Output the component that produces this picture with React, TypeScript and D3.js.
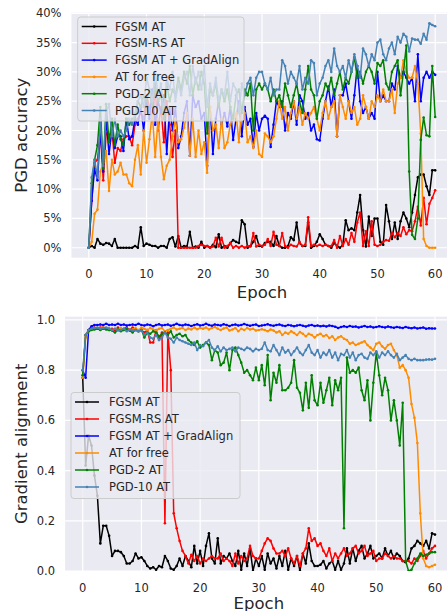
import React from "react";
import * as d3 from "d3";

// values were logged every half epoch
const epochs = d3.range(121).map((i) => i / 2);

const legendNames = ["FGSM AT", "FGSM-RS AT", "FGSM AT + GradAlign", "AT for free", "PGD-2 AT", "PGD-10 AT"];
const lineColors = ["#000000", "#ff0000", "#0000ff", "#ff8c00", "#008000", "#4682b4"];

const epochTicks = [0, 10, 20, 30, 40, 50, 60];
const accTicks = [0, 5, 10, 15, 20, 25, 30, 35, 40];
const alignTicks = [0, 0.2, 0.4, 0.6, 0.8, 1.0];

// ---- PGD accuracy (%) ----
const fgsmAcc = [
  0, 0.3, 0, 1.5, 0.7, 0.5, 0.8, 0.7, 0.3, 1.5, 0, 0, 0, 0, 0, 0, 0.3, 0, 3.5, 0.3, 0.7,
  0.5, 0.3, 0.3, 0, 0.3, 0.3, 0, 1.5, 1.8, 0.2, 2.0, 0, 0.3, 0.2, 2.7, 0, 0.2, 0, 1.0, 0,
  0.3, 0, 0.5, 0.1, 2.3, 0, 0.3, 0, 0.8, 1.3, 1.0, 0.8, 4.7, 4.0, 0, 0.3, 1.0, 2.0, 0.3, 0.2,
  0.8, 1.0, 1.0, 0.3, 2.0, 0.3, 0, 0, 0.3, 1.8, 1.3, 4.3, 0.8, 0.3, 0.3, 4.3, 0, 0.3, 1.0, 2.3,
  1.5, 0.5, 0.3, 0, 0.8, 0.3, 0, 0.5, 4.7, 3.0, 3.3, 3.0, 6.0, 9.0, 3.0, 0.2, 5.3, 2.0, 5.0, 5.0,
  1.0, 0.5, 7.3, 4.5, 1.5, 4.3, 1.5, 4.5, 6.0, 5.0, 3.5, 6.0, 9.0, 12.0, 12.5, 12.5, 10.5, 9.0, 13.2, 13.2,
];
const rsAcc = [
  0, 8, 14.5, 15, 20, 11.5, 19.5, 19, 20, 14.5, 17, 16.5, 18.5, 19, 19, 17.5, 21, 22, 23, 22, 26,
  24, 22, 27, 20, 24, 18, 25, 21, 15.5, 20, 0, 0, 0, 0, 0, 0, 0, 0.3, 0.5, 0.3,
  0.3, 0, 0.2, 1.7, 0.2, 1.7, 0, 0.3, 0.8, 0, 0.3, 0, 0.3, 0, 0.3, 0.2, 2.5, 0.2, 0.5, 0.3,
  0.5, 1.5, 0.3, 2.7, 0.5, 0.3, 2.5, 0.3, 0, 0.5, 0.3, 0.2, 1.0, 0.3, 0.5, 5.2, 0.3, 0.5, 0.3, 0.5,
  0.3, 0.5, 0.3, 0.3, 1.3, 0, 2.0, 0.3, 1.5, 0.5, 2.5, 1.0, 4.3, 6.0, 0.3, 2.8, 0.3, 4.5, 0.5, 0.3,
  0.5, 1.0, 1.3, 1.2, 2.5, 1.8, 2.5, 2.0, 3.5, 2.3, 3.0, 2.8, 4.5, 7.0, 3.8, 8.5, 4.0, 7.5, 8.5, 9.8,
];
const gaAcc = [
  0, 8, 13.5, 11.5, 20, 13, 22, 16, 20, 17, 19, 19, 16.5, 22, 18.5, 19, 22, 21, 24, 20, 25,
  22, 27, 21, 25, 23, 26, 16, 24, 20, 24, 17, 19, 23, 25, 15.7, 26, 24, 25, 22, 23,
  14, 24, 16, 22, 25, 21, 23, 20.7, 24, 18.4, 22, 25, 19, 24, 21, 22, 17.2, 23, 20, 22,
  22.5, 22, 17.2, 21, 25, 24, 25, 20, 23, 22, 25, 21, 26, 25, 22, 23, 20, 21, 18.5, 18.3,
  22, 25, 27.5, 24, 27, 19, 26, 26, 28, 25, 22, 26, 31, 25, 23, 24, 22, 23, 22, 30,
  25, 26, 25, 25, 28, 27, 31, 29, 30, 29, 28, 29, 25, 33, 25, 29, 30, 29, 30, 29.5,
];
const freeAcc = [
  0, 1, 5.8, 6.5, 13, 14.5, 16.5, 9.7, 15, 12.5, 13, 14.5, 12.5, 12.5, 11, 10.5, 15, 17.5, 12.5, 20, 14.5,
  18.5, 23, 15.5, 22, 15.5, 11.7, 14, 15, 19, 22, 18, 18.5, 20.5, 23, 15.7, 22, 15.5, 20, 16, 18,
  12.8, 24, 20, 21, 17, 22, 17, 18, 21, 22, 23, 18, 24, 23, 18, 19, 17, 20, 16, 15.5,
  19.5, 19, 18, 19, 22, 25, 22, 24, 20, 23, 25, 22, 24, 21, 23, 22, 23, 24, 22, 20,
  23, 25, 22, 24, 25, 19, 26, 24, 22, 25, 23, 24, 21, 22, 26, 24, 22, 25, 24, 26,
  25, 27, 25, 25, 27, 23, 28, 29, 32, 30, 29, 29, 31, 28, 19.5, 1.5, 0.3, 0, 0, 0,
];
const pgd2Acc = [
  0, 11, 15, 17.5, 24, 13.5, 24.5, 18, 22, 17.5, 21, 18.5, 17.5, 22, 21, 22, 22, 25, 24, 26, 25,
  27, 24, 28, 25, 26, 22, 28, 25, 27, 26, 29, 27, 30, 28, 31, 26, 29, 27, 30, 28,
  19.5, 27, 26, 28, 24, 27, 25, 27, 24, 22, 26, 27, 23, 27, 26, 28, 20, 27, 28, 27,
  28, 27, 25, 27, 25, 26, 24, 28, 26, 24, 26, 28, 25, 23, 27, 31, 27, 26, 22, 25,
  26, 28, 27, 29, 26, 28, 30, 27, 29, 28, 30, 32.5, 29, 30, 28, 30, 31, 30, 28, 31.5,
  31, 32, 28, 27, 30, 31, 32, 26, 30, 34.5, 13, 2.2, 1.5, 5, 18.4, 22.2, 19.2, 19, 31, 22.3,
];
const pgd10Acc = [
  0, 12, 15, 12, 22, 14, 23, 24.5, 19, 22, 19, 20, 19, 20, 22, 21, 23, 25, 26, 24, 29,
  27, 25, 30, 26, 28, 23, 29, 27, 30, 25, 28, 26, 29, 30, 26, 31, 28, 30, 27, 31,
  24, 28, 26, 29, 25, 27, 26, 30, 25, 28, 27, 23, 28, 26, 28, 29, 26, 29, 30, 30,
  28, 27, 29, 26, 27, 27, 32, 31, 28, 30, 29, 28, 31, 27, 29, 28, 32, 31.5, 26, 28,
  29, 31, 32, 30, 34, 31, 30, 31, 29, 32, 30, 33, 31, 29, 34, 33, 31, 33, 32, 35,
  35.5, 33, 32, 34, 35, 33, 36, 35, 36.5, 36, 33.5, 35.7, 35.5, 35.5, 34.8, 36.5, 35.5, 38.3, 38, 37.8,
];

// ---- gradient alignment ----
const fgsmAlign = [
  0.77, 0.42, 0.54, 0.5, 0.38, 0.3, 0.11, 0.18, 0.18, 0.14, 0.06, 0.08, 0.08, 0.075, 0.06, 0.03, 0.03, 0.04, 0.07, 0.05, 0.055,
  0.04, 0.02, 0.01, 0.015, 0.005, 0.02, 0.015, 0.06, 0.04, 0.01, 0.005, 0.02, 0.05, 0.02, 0.06, 0.04, 0.015, 0.1, 0.03, 0.08,
  0.02, 0.1, 0.15, 0.05, 0.03, 0.13, 0.03, 0.06, 0.05, 0.07, 0.04, 0.02, 0.08, 0.005, 0.07, 0.02, 0.09, 0.0, 0.05, 0.02,
  0.06, 0.005, 0.07, 0.03, 0.05, 0.01, 0.06, 0.02, 0.08, 0.005, 0.05, 0.02, 0.06, 0.0, 0.07, 0.03, 0.11, 0.04, 0.02, 0.02,
  0.025, 0.04, 0.01, 0.03, 0.04, 0.005, 0.04, 0.005, 0.03, 0.09, 0.03, 0.09, 0.04, 0.08, 0.1, 0.05, 0.07, 0.1, 0.05, 0.06,
  0.07, 0.05, 0.09, 0.06, 0.08, 0.05, 0.07, 0.06, 0.04, 0.035, 0.05, 0.09, 0.1, 0.12, 0.11, 0.1, 0.12, 0.09, 0.15, 0.145,
];
const rsAlign = [
  0.78, 0.94, 0.96, 0.965, 0.97, 0.965, 0.97, 0.97, 0.965, 0.96, 0.965, 0.96, 0.97, 0.96, 0.965, 0.97, 0.96, 0.97, 0.96, 0.955, 0.96,
  0.95, 0.96, 0.91, 0.91, 0.96, 0.92, 0.95, 0.19, 0.95, 0.8, 0.23, 0.17, 0.12, 0.08, 0.06, 0.03, 0.065, 0.04, 0.06, 0.03,
  0.05, 0.04, 0.05, 0.06, 0.05, 0.05, 0.07, 0.04, 0.05, 0.04, 0.02, 0.07, 0.03, 0.06, 0.04, 0.05, 0.1, 0.06, 0.05, 0.05,
  0.08, 0.11, 0.13, 0.12, 0.09, 0.07, 0.07, 0.08, 0.06, 0.09, 0.05, 0.03, 0.06, 0.02, 0.07, 0.09, 0.17, 0.12, 0.13, 0.1,
  0.11, 0.08, 0.06, 0.09, 0.04, 0.07, 0.05, 0.07, 0.09, 0.06, 0.07, 0.09, 0.1, 0.07, 0.08, 0.1, 0.06, 0.07, 0.08, 0.04,
  0.05, 0.05, 0.07, 0.06, 0.05, 0.06, 0.05, 0.05, 0.04, 0.04, 0.04, 0.03, 0.05, 0.04, 0.06, 0.08, 0.05, 0.07, 0.09, 0.1,
];
const gaAlign = [
  0.8, 0.77, 0.96, 0.975, 0.98, 0.98, 0.982, 0.98, 0.985, 0.98, 0.982, 0.98, 0.985, 0.98, 0.982, 0.978, 0.98, 0.982, 0.98, 0.985, 0.98,
  0.978, 0.982, 0.98, 0.975, 0.98, 0.983, 0.978, 0.98, 0.982, 0.977, 0.98, 0.985, 0.98, 0.978, 0.982, 0.98, 0.976, 0.98, 0.983, 0.978,
  0.98, 0.985, 0.98, 0.977, 0.982, 0.98, 0.978, 0.983, 0.98, 0.976, 0.98, 0.982, 0.978, 0.98, 0.984, 0.98, 0.977, 0.98, 0.982, 0.976,
  0.978, 0.98, 0.983, 0.979, 0.977, 0.98, 0.982, 0.978, 0.976, 0.98, 0.978, 0.975, 0.978, 0.98, 0.977, 0.974, 0.978, 0.98, 0.976, 0.978,
  0.975, 0.977, 0.974, 0.978, 0.976, 0.973, 0.968, 0.972, 0.975, 0.972, 0.976, 0.973, 0.974, 0.97, 0.973, 0.976, 0.972, 0.974, 0.97, 0.972,
  0.975, 0.972, 0.97, 0.974, 0.971, 0.969, 0.972, 0.97, 0.968, 0.972, 0.969, 0.967, 0.97, 0.966, 0.968, 0.97, 0.965, 0.967, 0.966, 0.966,
];
const freeAlign = [
  0.77, 0.93, 0.955, 0.962, 0.965, 0.968, 0.965, 0.97, 0.965, 0.968, 0.96, 0.965, 0.962, 0.968, 0.96, 0.965, 0.958, 0.962, 0.968, 0.96, 0.97,
  0.965, 0.96, 0.968, 0.962, 0.958, 0.965, 0.968, 0.955, 0.96, 0.965, 0.97, 0.962, 0.965, 0.968, 0.96, 0.966, 0.962, 0.97, 0.963, 0.968,
  0.965, 0.97, 0.962, 0.968, 0.972, 0.965, 0.96, 0.966, 0.97, 0.958, 0.962, 0.968, 0.955, 0.965, 0.96, 0.968, 0.962, 0.965, 0.958, 0.96,
  0.963, 0.96, 0.955, 0.962, 0.958, 0.95, 0.955, 0.94, 0.95, 0.945, 0.955, 0.948, 0.94, 0.952, 0.945, 0.935, 0.945, 0.94, 0.93, 0.94,
  0.945, 0.935, 0.94, 0.928, 0.935, 0.92, 0.93, 0.935, 0.925, 0.92, 0.905, 0.91, 0.9, 0.905, 0.91, 0.915, 0.9, 0.89, 0.88, 0.905,
  0.91, 0.895, 0.885, 0.9, 0.905, 0.88, 0.86, 0.81, 0.82, 0.8, 0.77, 0.665, 0.61, 0.51, 0.23, 0.05, 0.02, 0.015, 0.02, 0.025,
];
const pgd2Align = [
  0.78, 0.94, 0.955, 0.96, 0.962, 0.965, 0.96, 0.965, 0.962, 0.96, 0.958, 0.95, 0.962, 0.955, 0.96, 0.965, 0.958, 0.95, 0.96, 0.955, 0.96,
  0.93, 0.95, 0.945, 0.955, 0.95, 0.935, 0.945, 0.95, 0.94, 0.955, 0.93, 0.94, 0.945, 0.935, 0.94, 0.92, 0.91, 0.9, 0.915, 0.89,
  0.9, 0.91, 0.9, 0.84, 0.88, 0.87, 0.82, 0.83, 0.87, 0.8, 0.88, 0.89, 0.86, 0.83, 0.79, 0.8, 0.78, 0.76, 0.81, 0.76,
  0.82, 0.74, 0.86, 0.68, 0.79, 0.75, 0.82, 0.72, 0.72, 0.73, 0.75, 0.84, 0.73, 0.71, 0.64, 0.75, 0.65, 0.78, 0.68, 0.66,
  0.75, 0.67, 0.72, 0.77, 0.66, 0.76, 0.72, 0.77, 0.17, 0.85, 0.79, 0.8, 0.79, 0.81, 0.72, 0.68, 0.76, 0.6, 0.75, 0.87,
  0.78, 0.7, 0.77, 0.72, 0.6, 0.68, 0.6, 0.5, 0.67, 0.04, 0.0, 0.005, 0.03, 0.05, 0.07, 0.06, 0.065, 0.07, 0.075, 0.075,
];
const pgd10Align = [
  0.8, 0.94, 0.96, 0.965, 0.968, 0.97, 0.965, 0.968, 0.97, 0.965, 0.96, 0.965, 0.958, 0.96, 0.965, 0.955, 0.962, 0.958, 0.96, 0.955, 0.96,
  0.94, 0.95, 0.93, 0.925, 0.94, 0.92, 0.93, 0.95, 0.93, 0.925, 0.91, 0.93, 0.92, 0.915, 0.91, 0.905, 0.9, 0.91, 0.88, 0.9,
  0.895, 0.91, 0.92, 0.89, 0.88, 0.895, 0.875, 0.89, 0.88, 0.885, 0.89, 0.875, 0.89, 0.885, 0.88, 0.89, 0.885, 0.875, 0.885, 0.88,
  0.885, 0.91, 0.88, 0.875, 0.9, 0.88, 0.86, 0.89, 0.87, 0.88, 0.86, 0.875, 0.89, 0.87, 0.86, 0.88, 0.9, 0.87, 0.86, 0.88,
  0.85, 0.87, 0.86, 0.88, 0.85, 0.87, 0.84, 0.865, 0.86, 0.88, 0.85, 0.87, 0.84, 0.86, 0.865, 0.85, 0.845, 0.87, 0.86, 0.875,
  0.85, 0.87, 0.86, 0.875, 0.86, 0.85, 0.865, 0.84, 0.85, 0.86, 0.845, 0.84, 0.845, 0.84, 0.84, 0.84, 0.842, 0.843, 0.842, 0.845,
];

const FONT = "DejaVu Sans, sans-serif";
const TEXT = "#262626";
const BG = "#EAEAF2";

type Box = { left: number; right: number; top: number; bottom: number };

function Panel(props: {
  id: string;
  box: Box;
  yDomain: [number, number];
  yTicks: number[];
  fmt: (v: number) => string;
  yLabel: string;
  xLabelDy: number;
  series: number[][];
  legend: { x: number; y: number; w: number; h: number; step: number; handle: number; textX: number };
}) {
  const { id, box, yDomain, yTicks, fmt, yLabel, xLabelDy, series, legend } = props;
  const x = d3.scaleLinear().domain([-3, 63]).range([box.left, box.right]);
  const y = d3.scaleLinear().domain(yDomain).range([box.bottom, box.top]);
  const line = d3
    .line<number>()
    .x((_, i) => x(epochs[i]))
    .y((d) => y(d));

  return (
    <g>
      <defs>
        <clipPath id={id}>
          <rect x={box.left} y={box.top} width={box.right - box.left} height={box.bottom - box.top} />
        </clipPath>
      </defs>
      <rect x={box.left} y={box.top} width={box.right - box.left} height={box.bottom - box.top} fill={BG} />
      {/* grid */}
      {epochTicks.map((t) => (
        <line key={"gx" + t} x1={x(t)} x2={x(t)} y1={box.top} y2={box.bottom} stroke="#fff" strokeWidth={1.2} />
      ))}
      {yTicks.map((t) => (
        <line key={"gy" + t} x1={box.left} x2={box.right} y1={y(t)} y2={y(t)} stroke="#fff" strokeWidth={1.2} />
      ))}
      {/* series */}
      <g clipPath={`url(#${id})`}>
        {series.map((s, k) => (
          <g key={k}>
            <path d={line(s) || ""} fill="none" stroke={lineColors[k]} strokeWidth={1.5} strokeLinejoin="round" />
            {s.map((v, i) => (
              <circle key={i} cx={x(epochs[i])} cy={y(v)} r={1.3} fill={lineColors[k]} />
            ))}
          </g>
        ))}
      </g>
      {/* tick labels */}
      {epochTicks.map((t) => (
        <text key={"tx" + t} x={x(t)} y={box.bottom + 16.5} dy="0.35em" textAnchor="middle" fontSize={11.5} fill={TEXT} fontFamily={FONT}>
          {t}
        </text>
      ))}
      {yTicks.map((t) => (
        <text key={"ty" + t} x={box.left - 10} y={y(t)} dy="0.35em" textAnchor="end" fontSize={11.5} fill={TEXT} fontFamily={FONT}>
          {fmt(t)}
        </text>
      ))}
      <text x={(box.left + box.right) / 2} y={box.bottom + xLabelDy} dy="0.35em" textAnchor="middle" fontSize={16.5} fill={TEXT} fontFamily={FONT}>
        Epoch
      </text>
      <text
        transform={`translate(21.5,${(box.top + box.bottom) / 2}) rotate(-90)`}
        dy="0.35em"
        textAnchor="middle"
        fontSize={16.5}
        fill={TEXT}
        fontFamily={FONT}
      >
        {yLabel}
      </text>
      {/* legend */}
      <rect x={legend.x} y={legend.y} width={legend.w} height={legend.h} rx={3} fill={BG} fillOpacity={0.8} stroke="#cccccc" strokeWidth={1} />
      {legendNames.map((name, k) => {
        const cy = legend.y + 9.5 + k * legend.step;
        const x0 = legend.x + 4;
        return (
          <g key={name}>
            <line x1={x0} x2={x0 + legend.handle} y1={cy} y2={cy} stroke={lineColors[k]} strokeWidth={1.5} />
            <circle cx={x0 + legend.handle / 2} cy={cy} r={1.3} fill={lineColors[k]} />
            <text x={legend.textX} y={cy} dy="0.35em" fontSize={11.5} fill={TEXT} fontFamily={FONT}>
              {name}
            </text>
          </g>
        );
      })}
    </g>
  );
}

export default function App() {
  return (
    <svg width={447} height={611} style={{ position: "absolute", left: 0, top: 0, background: "#fff" }}>
      <Panel
        id="clipTop"
        box={{ left: 71.5, right: 452.5, top: 12.7, bottom: 257.7 }}
        yDomain={[-1.7, 40.1]}
        yTicks={accTicks}
        fmt={(v) => `${v}%`}
        yLabel="PGD accuracy"
        xLabelDy={35}
        series={[fgsmAcc, rsAcc, gaAcc, freeAcc, pgd2Acc, pgd10Acc]}
        legend={{ x: 77.7, y: 17, w: 166.3, h: 104, step: 16.8, handle: 25, textX: 115 }}
      />
      <Panel
        id="clipBottom"
        box={{ left: 65.1, right: 452.6, top: 316.7, bottom: 571 }}
        yDomain={[0, 1.013]}
        yTicks={alignTicks}
        fmt={(v) => v.toFixed(1)}
        yLabel="Gradient alignment"
        xLabelDy={32.5}
        series={[fgsmAlign, rsAlign, gaAlign, freeAlign, pgd2Align, pgd10Align]}
        legend={{ x: 71, y: 392.5, w: 169, h: 106, step: 17, handle: 24, textX: 109 }}
      />
    </svg>
  );
}
